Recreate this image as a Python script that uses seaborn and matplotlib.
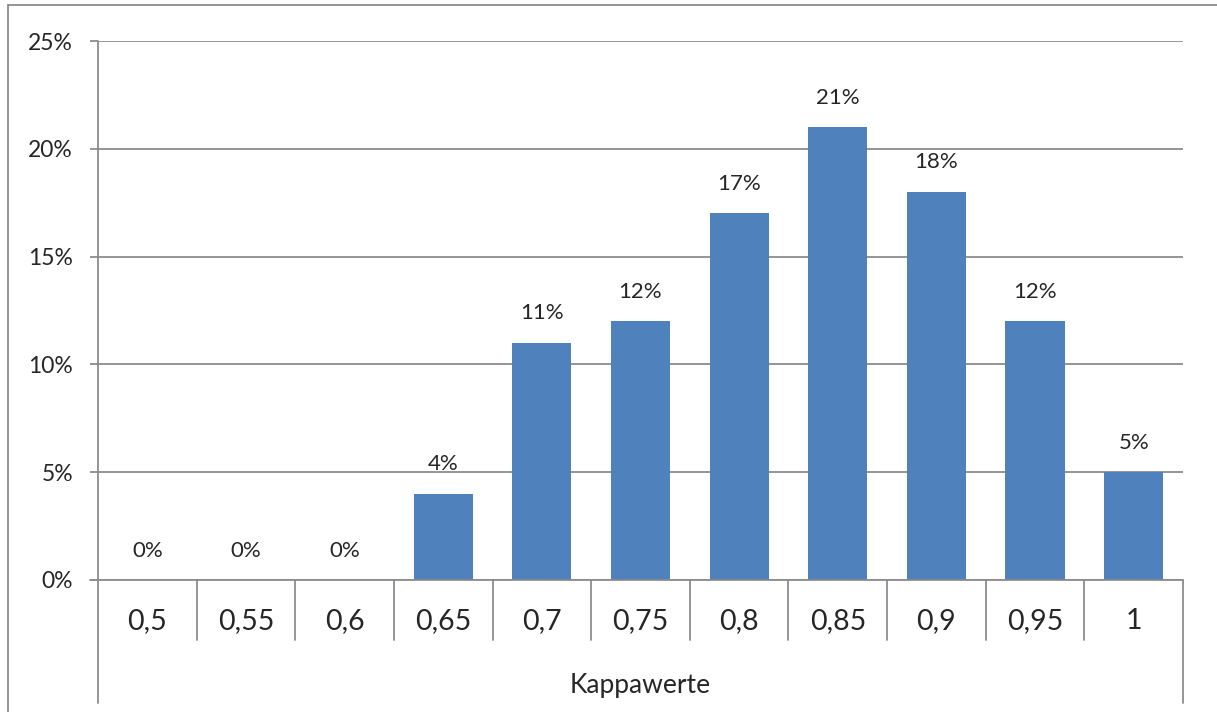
import matplotlib
matplotlib.use('Agg')
import matplotlib.pyplot as plt
from matplotlib.lines import Line2D
import seaborn as sns
import pandas as pd

# Data
kappa_labels = ['0,5', '0,55', '0,6', '0,65', '0,7', '0,75', '0,8', '0,85', '0,9', '0,95', '1']
share_pct = [0, 0, 0, 4, 11, 12, 17, 21, 18, 12, 5]
y_ticks = [0, 5, 10, 15, 20, 25]
x_title = 'Kappawerte'

bar_color = '#4F81BD'
line_color = '#8C8C8C'

sns.set_theme(style='white')
plt.rcParams['font.family'] = ['Lato', 'DejaVu Sans']

df = pd.DataFrame({'kappa': kappa_labels, 'share': share_pct})

fig = plt.figure(figsize=(12.17, 7.12), dpi=100)
ax = fig.add_axes([98 / 1217, 1 - 580 / 712, (1183 - 98) / 1217, (580 - 41) / 712])

sns.barplot(data=df, x='kappa', y='share', color=bar_color, saturation=1,
            width=0.6, linewidth=0, ax=ax, zorder=3)

ax.set_xlim(-0.5, len(kappa_labels) - 0.5)
ax.set_ylim(0, 25)
ax.set_yticks(y_ticks)
ax.set_yticklabels([f'{v}%' for v in y_ticks], fontsize=16.5)
ax.yaxis.grid(True, color=line_color, linewidth=1.3, zorder=0)
ax.tick_params(axis='y', left=True, length=6, width=1.3, color=line_color, pad=12)
ax.tick_params(axis='x', bottom=False, labelbottom=False)
ax.set_xlabel('')
ax.set_ylabel('')

for side in ['top', 'right', 'bottom', 'left']:
    ax.spines[side].set_visible(False)

# data labels above bars
for i, v in enumerate(share_pct):
    ax.annotate(f'{v}%', (i, v), xytext=(0, 14), textcoords='offset points',
                ha='center', va='bottom', fontsize=16)

# category table below the axis (Excel style)
tr = ax.get_xaxis_transform()
sep_depth = -(640 - 580) / (580 - 41)
full_depth = -(703 - 580) / (580 - 41)
n = len(kappa_labels)
for i in range(1, n):
    ax.add_line(Line2D([i - 0.5, i - 0.5], [0, sep_depth], transform=tr,
                       color=line_color, linewidth=1.3, clip_on=False))
for xb in [-0.5, n - 0.5]:
    ax.add_line(Line2D([xb, xb], [0 if xb > 0 else 1, full_depth], transform=tr,
                       color=line_color, linewidth=1.3, clip_on=False))
ax.add_line(Line2D([-0.5 - 8 / 98.6, n - 0.5], [0, 0], transform=tr,
                   color=line_color, linewidth=1.3, clip_on=False, zorder=4))

label_y = -(621 - 580) / (580 - 41)
for i, lab in enumerate(kappa_labels):
    ax.text(i, label_y, lab, transform=tr, ha='center', va='center', fontsize=20.5)

ax.text((n - 1) / 2, -(685 - 580) / (580 - 41), x_title, transform=tr,
        ha='center', va='center', fontsize=19)

# outer chart frame (top and left edges visible)
fig.add_artist(Line2D([8 / 1217, 1], [1 - 5 / 712, 1 - 5 / 712], transform=fig.transFigure,
                      color=line_color, linewidth=1.3))
fig.add_artist(Line2D([8 / 1217, 8 / 1217], [0, 1 - 5 / 712], transform=fig.transFigure,
                      color=line_color, linewidth=1.3))

fig.savefig('out.png', dpi=100, facecolor='white')
